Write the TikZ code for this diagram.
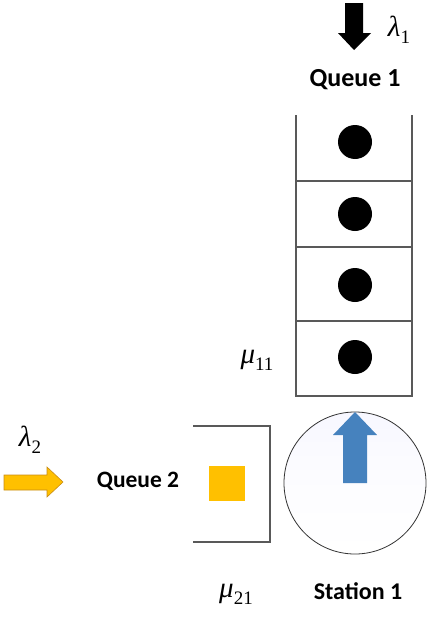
\documentclass[tikz,border=0pt]{standalone}
\usepackage{fontspec}
\setmainfont{Carlito}
\newfontfamily\grk{Liberation Serif}
\tikzset{
  lbl/.style={font=\bfseries\fontsize{26}{28}\selectfont, inner sep=0pt},
  grklbl/.style={font=\fontsize{29}{31}\selectfont, inner sep=0pt},
  wall/.style={draw=black!65, line width=1.1pt},
  cust/.style={circle, fill=black, minimum size=34pt, inner sep=0pt},
}
\newcommand{\gsym}[2]{{\grk\itshape #1}\raisebox{-0.5ex}{\grk\fontsize{19}{20}\selectfont #2}}
\begin{document}
\begin{tikzpicture}[x=1pt,y=-1pt]
\useasboundingbox (0,0) rectangle (428,621);
% Queue 1 column
\draw[wall] (296,115) -- (296,396) -- (412,396) -- (412,115);
\draw[wall] (296,181) -- (412,181);
\draw[wall] (296,247) -- (412,247);
\draw[wall] (296,321) -- (412,321);
\node[cust] (c1) at (355,142) {};
\node[cust] (c2) at (355,214) {};
\node[cust] (c3) at (355,285) {};
\node[cust] (c4) at (355,357) {};
% black arrival arrow
\fill[black] (345,3) -- (363,3) -- (363,33) -- (371,33) -- (354,50) -- (338,33) -- (345,33) -- cycle;
\node[grklbl] (l1) at (399,30) {\gsym{λ}{1}};
\node[lbl] (q1) at (355,80) {Queue 1};
\node[grklbl] (m11) at (257,360) {\gsym{μ}{11}};
% station
\node[circle, draw=black!80, line width=0.8pt, minimum size=142pt, inner sep=0pt, top color=blue!3, bottom color=white, middle color=white!99!blue] (st) at (355,483) {};
\fill[fill={rgb,255:red,70;green,130;blue,190}] (343,483) -- (343,435) -- (333,435) -- (355,412) -- (377,435) -- (367,435) -- (367,483) -- cycle;
\node[lbl, font=\bfseries\fontsize{24}{26}\selectfont] (s1) at (358,591) {Station 1};
% Queue 2
\draw[wall] (193,426) -- (270,426) -- (270,542) -- (193,542);
\fill[fill={rgb,255:red,255;green,192;blue,0}] (209,466) rectangle (245,501);
\node[lbl, font=\bfseries\fontsize{23.5}{25}\selectfont] (q2) at (138,481) {Queue 2};
\node[grklbl] (m21) at (236,594) {\gsym{μ}{21}};
% yellow arrival arrow
\draw[draw={rgb,255:red,200;green,140;blue,20}, fill={rgb,255:red,255;green,192;blue,0}, line width=0.6pt] (4,475) -- (47,475) -- (47,467) -- (63,482) -- (47,497) -- (47,490) -- (4,490) -- cycle;
\node[grklbl] (l2) at (30,440) {\gsym{λ}{2}};
\end{tikzpicture}
\end{document}
